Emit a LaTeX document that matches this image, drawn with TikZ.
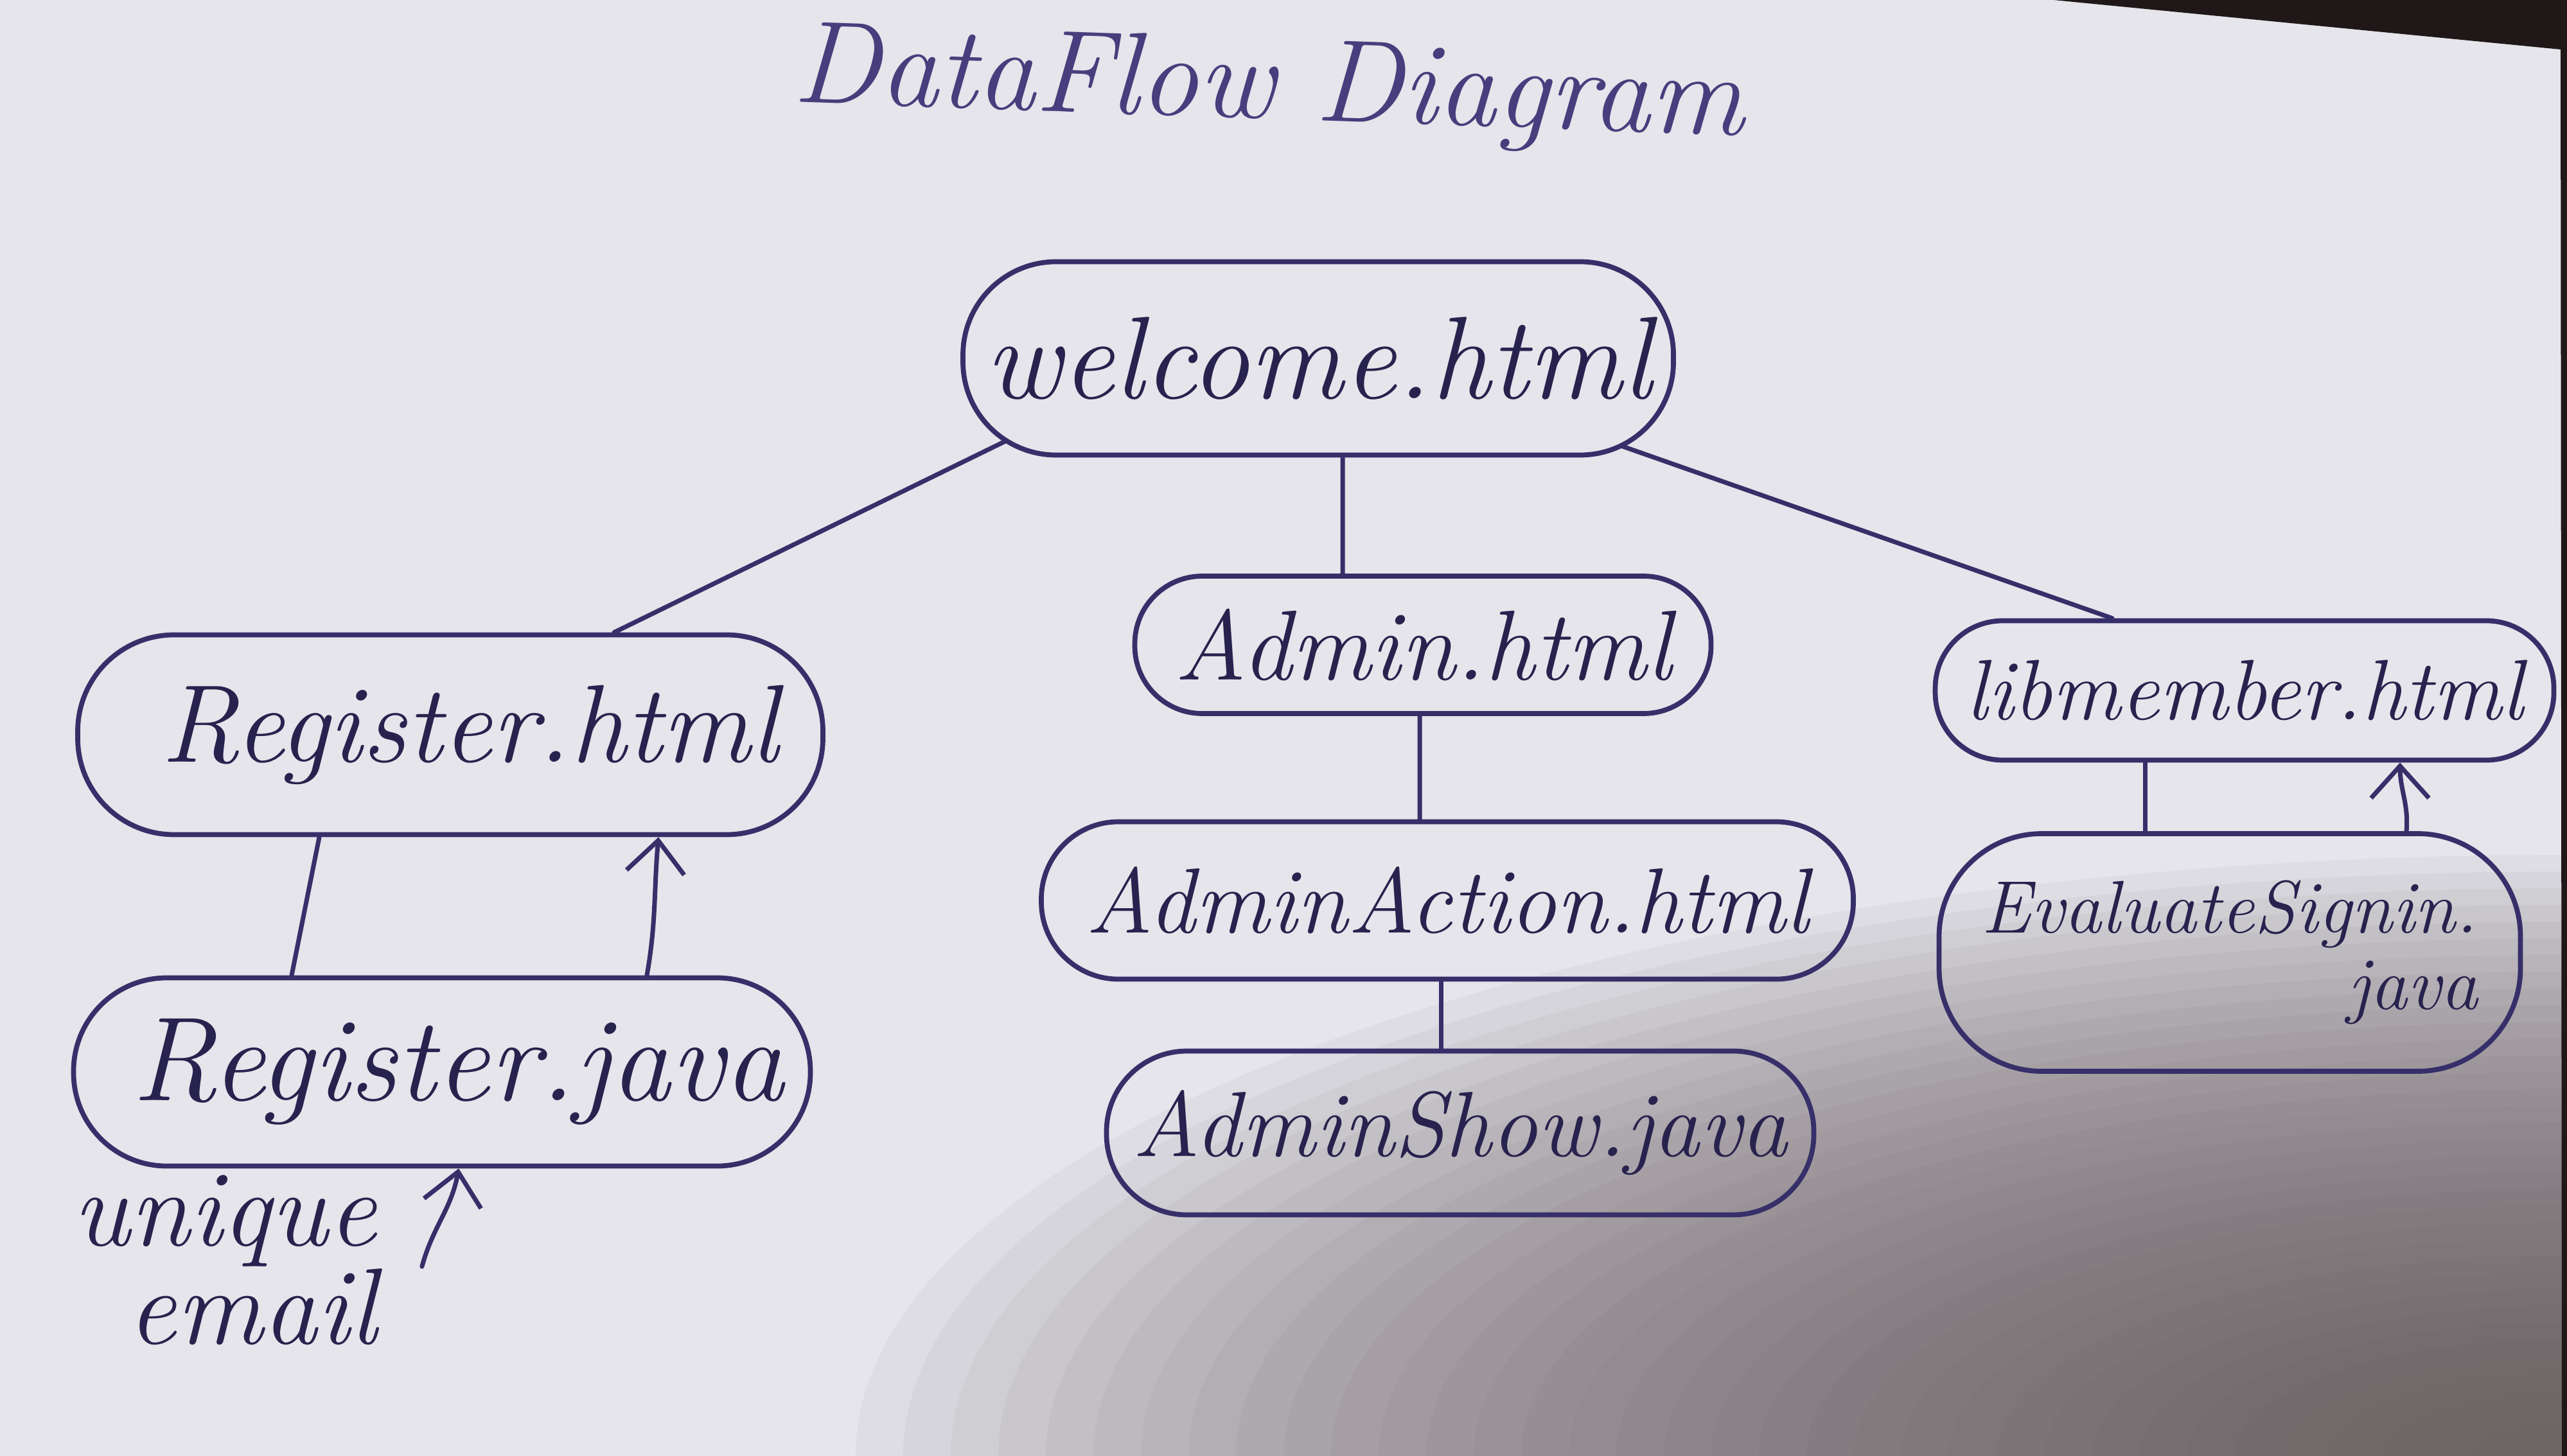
\documentclass[tikz,border=0pt]{standalone}
\usepackage{fontspec}
\usetikzlibrary{arrows.meta}
\definecolor{paper}{RGB}{229,229,235}
\definecolor{shd}{RGB}{98,88,90}
\definecolor{inkc}{RGB}{55,47,105}
\definecolor{textc}{RGB}{40,34,78}
\definecolor{titlec}{RGB}{72,62,125}
\definecolor{edgec}{RGB}{32,24,24}
\tikzset{
  oval/.style={draw=inkc, line width=2.2pt, rounded corners=#1, inner sep=0pt, text=textc},
  conn/.style={draw=inkc, line width=2pt, line cap=round},
  arr/.style={conn, -{Straight Barb[length=0.5cm, width=0.9cm, line width=2pt]}},
  handtext/.style={inner sep=0pt, text=textc}
}
\begin{document}
\begin{tikzpicture}
\path[use as bounding box] (0,0) rectangle (39.96,-22.67);
\begin{scope}
  \clip (0,0) rectangle (39.96,-22.67);
  \fill[paper] (0,0) rectangle (39.96,-22.67);
  \foreach \i in {1,...,36} {
    \fill[shd, opacity=0.055] (39.96,-22.67) ellipse [x radius={0.74*\i}, y radius={0.26*\i}];
  }
  \fill[edgec] (31.97,0) -- (39.86,-0.77) -- (39.88,-22.67) -- (39.96,-22.67) -- (39.96,0) -- cycle;
\end{scope}

% title
\node[inner sep=0pt, text=titlec, font=\itshape\fontsize{52}{62}\selectfont, rotate=-2] (title) at (19.75,-1.40) {DataFlow Diagram};

% nodes
\node[oval=1.45cm, minimum width=11.06cm, minimum height=3.01cm, font=\itshape\fontsize{52}{62}\selectfont] (welcome) at (20.52,-5.58) {welcome.html};
\node[oval=1.05cm, minimum width=8.97cm, minimum height=2.14cm, font=\itshape\fontsize{44}{52}\selectfont] (admin) at (22.15,-10.04) {Admin.html};
\node[oval=1.2cm, minimum width=12.64cm, minimum height=2.45cm, font=\itshape\fontsize{41}{48}\selectfont] (adminaction) at (22.53,-14.02) {AdminAction.html};
\node[oval=1.25cm, minimum width=11.01cm, minimum height=2.55cm, font=\itshape\fontsize{41}{48}\selectfont] (adminshow) at (22.73,-17.64) {AdminShow.java};
\node[oval=1.5cm, minimum width=11.60cm, minimum height=3.11cm, font=\itshape\fontsize{49}{58}\selectfont] (reghtml) at (7.01,-11.44) {\hspace*{0.6cm}Register.html};
\node[oval=1.45cm, minimum width=11.47cm, minimum height=2.93cm, font=\itshape\fontsize{53}{63}\selectfont] (regjava) at (6.88,-16.69) {\hspace*{0.5cm}Register.java};
\node[oval=1.05cm, minimum width=9.63cm, minimum height=2.17cm, font=\itshape\fontsize{38}{45}\selectfont] (libmember) at (34.94,-10.75) {libmember.html};
\node[oval=1.6cm, minimum width=9.05cm, minimum height=3.70cm, align=right, font=\itshape\fontsize{33}{34}\selectfont] (evaluate) at (34.71,-14.83) {EvaluateSignin.\\java};
\node[handtext, align=right, font=\itshape\fontsize{48}{32}\selectfont] (email) at (3.50,-19.62) {unique\\email};

% connectors
\draw[conn] ([shift={(-4.85cm,-1.28cm)}]welcome.center) -- ([xshift=2.55cm]reghtml.north);
\draw[conn] ([xshift=0.38cm]welcome.south) -- ([xshift=-1.25cm]admin.north);
\draw[conn] ([shift={(4.71cm,-1.36cm)}]welcome.center) -- ([xshift=-2.06cm]libmember.north);
\draw[conn] ([xshift=-0.05cm]admin.south) -- ([xshift=-0.43cm]adminaction.north);
\draw[conn] ([xshift=-0.10cm]adminaction.south) -- ([xshift=-0.30cm]adminshow.north);
\draw[conn] ([xshift=-2.04cm]reghtml.south) -- ([xshift=-2.34cm]regjava.north);
\draw[arr] ([xshift=3.19cm]regjava.north) to[out=80,in=-95] ([xshift=3.24cm]reghtml.south);
\draw[arr] ([shift={(0.70cm,-0.10cm)}]email.east) to[out=75,in=-100] ([xshift=0.26cm]regjava.south);
\draw[conn] ([xshift=-1.55cm]libmember.south) -- ([xshift=-1.32cm]evaluate.north);
\draw[arr] ([xshift=2.75cm]evaluate.north) to[out=85,in=-90] ([xshift=2.42cm]libmember.south);
\end{tikzpicture}
\end{document}
